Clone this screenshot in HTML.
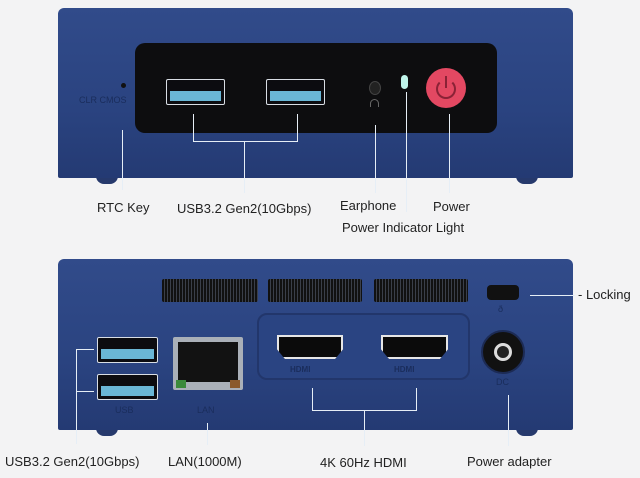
<!DOCTYPE html>
<html><head><style>
*{margin:0;padding:0;box-sizing:border-box}
body{width:640px;height:478px;background:#f3f3f4;position:relative;overflow:hidden;font-family:"Liberation Sans",sans-serif}
div{position:absolute}
.box{background:linear-gradient(#314b8a,#2a4380 60%,#243a73);border-radius:6px 6px 2px 2px}
.foot{background:#26396c;border-radius:0 0 8px 8px}
.usb{background:#0c0c10;border:1.5px solid #d8dde4;border-radius:2px}
.usb i{position:absolute;left:3px;right:3px;bottom:3px;height:40%;background:#6ab7d6}
.ln{background:#e6eef6}
.lbl{font-size:13px;color:#222;white-space:nowrap}
.vent{background:repeating-linear-gradient(90deg,#111 0 2px,#3a3f4a 2px 3px);border-radius:2px}
.hdmi{background:#0b0b0b;border:2px solid #e6e6e6;clip-path:polygon(0 0,100% 0,100% 60%,88% 100%,12% 100%,0 60%);}
.sm{font-size:9px;color:#1a2d5c}
</style></head><body>
<div class="foot" style="left:96px;top:172px;width:22px;height:12px"></div>
<div class="foot" style="left:516px;top:172px;width:22px;height:12px"></div>
<div class="box" style="left:58px;top:8px;width:515px;height:170px"></div>
<div style="left:135px;top:43px;width:362px;height:90px;background:#0d0d0f;border-radius:10px"></div>
<div style="left:121px;top:83px;width:5px;height:5px;border-radius:50%;background:#111"></div>
<div class="sm" style="left:79px;top:95px">CLR CMOS</div>
<div class="usb" style="left:166px;top:79px;width:59px;height:26px"><i></i></div>
<div class="usb" style="left:266px;top:79px;width:59px;height:26px"><i></i></div>
<div style="left:369px;top:81px;width:12px;height:14px;border-radius:50%;background:#222;border:1px solid #444"></div>
<div style="left:370px;top:99px;width:9px;height:8px;border:1.5px solid #666;border-bottom:none;border-radius:5px 5px 0 0"></div>
<div style="left:401px;top:75px;width:7px;height:14px;border-radius:4px;background:#bff4ea"></div>
<div style="left:426px;top:68px;width:40px;height:40px;border-radius:50%;background:#e34862"></div>
<div style="left:436px;top:79px;width:20px;height:20px;border-radius:50%;border:2px solid #8a2236;border-top-color:transparent"></div>
<div style="left:445px;top:76px;width:2px;height:12px;background:#8a2236"></div>
<div class="ln" style="left:122px;top:130px;width:1px;height:60px"></div>
<div class="ln" style="left:193px;top:114px;width:1px;height:28px"></div>
<div class="ln" style="left:297px;top:114px;width:1px;height:28px"></div>
<div class="ln" style="left:193px;top:141px;width:105px;height:1px"></div>
<div class="ln" style="left:244px;top:141px;width:1px;height:52px"></div>
<div class="ln" style="left:375px;top:125px;width:1px;height:68px"></div>
<div class="ln" style="left:406px;top:92px;width:1px;height:120px"></div>
<div class="ln" style="left:449px;top:114px;width:1px;height:79px"></div>
<div class="lbl" style="left:97px;top:200px">RTC Key</div>
<div class="lbl" style="left:177px;top:201px">USB3.2 Gen2(10Gbps)</div>
<div class="lbl" style="left:340px;top:198px">Earphone</div>
<div class="lbl" style="left:433px;top:199px">Power</div>
<div class="lbl" style="left:342px;top:220px">Power Indicator Light</div>
<div class="foot" style="left:96px;top:424px;width:22px;height:12px"></div>
<div class="foot" style="left:516px;top:424px;width:22px;height:12px"></div>
<div class="box" style="left:58px;top:259px;width:515px;height:171px"></div>
<div class="vent" style="left:162px;top:279px;width:96px;height:23px"></div>
<div class="vent" style="left:268px;top:279px;width:94px;height:23px"></div>
<div class="vent" style="left:374px;top:279px;width:94px;height:23px"></div>
<div style="left:487px;top:285px;width:32px;height:15px;background:#111;border-radius:4px"></div>
<div style="left:257px;top:313px;width:213px;height:67px;border:2px solid #22366b;border-radius:10px;background:#2a4482"></div>
<div class="hdmi" style="left:277px;top:335px;width:66px;height:24px"></div>
<div class="hdmi" style="left:381px;top:335px;width:67px;height:24px"></div>
<div class="sm" style="left:290px;top:365px;font-weight:bold;font-size:8px">HDMI</div>
<div class="sm" style="left:394px;top:365px;font-weight:bold;font-size:8px">HDMI</div>
<div style="left:481px;top:330px;width:44px;height:44px;border-radius:50%;background:#111;border:2px solid #1c2b55"></div>
<div style="left:494px;top:343px;width:18px;height:18px;border-radius:50%;background:#222;border:3px solid #ddd"></div>
<div class="sm" style="left:496px;top:377px">DC</div>
<div class="sm" style="left:498px;top:304px">ð</div>
<div class="usb" style="left:97px;top:337px;width:61px;height:26px"><i></i></div>
<div class="usb" style="left:97px;top:374px;width:61px;height:26px"><i></i></div>
<div style="left:173px;top:337px;width:70px;height:53px;background:#aab0b8;border-radius:2px"></div>
<div style="left:178px;top:342px;width:60px;height:40px;background:#121212"></div>
<div style="left:176px;top:380px;width:10px;height:8px;background:#3b8a3b"></div>
<div style="left:230px;top:380px;width:10px;height:8px;background:#8b5a2b"></div>
<div class="sm" style="left:115px;top:405px">USB</div>
<div class="sm" style="left:197px;top:405px">LAN</div>
<div class="ln" style="left:76px;top:349px;width:1px;height:95px"></div>
<div class="ln" style="left:76px;top:349px;width:18px;height:1px"></div>
<div class="ln" style="left:76px;top:391px;width:18px;height:1px"></div>
<div class="ln" style="left:207px;top:423px;width:1px;height:22px"></div>
<div class="ln" style="left:312px;top:388px;width:1px;height:23px"></div>
<div class="ln" style="left:416px;top:388px;width:1px;height:23px"></div>
<div class="ln" style="left:312px;top:410px;width:105px;height:1px"></div>
<div class="ln" style="left:364px;top:410px;width:1px;height:36px"></div>
<div class="ln" style="left:508px;top:395px;width:1px;height:51px"></div>
<div class="ln" style="left:530px;top:295px;width:45px;height:1px"></div>
<div class="lbl" style="left:578px;top:287px">- Locking</div>
<div class="lbl" style="left:5px;top:454px">USB3.2 Gen2(10Gbps)</div>
<div class="lbl" style="left:168px;top:454px">LAN(1000M)</div>
<div class="lbl" style="left:320px;top:455px">4K 60Hz HDMI</div>
<div class="lbl" style="left:467px;top:454px">Power adapter</div>
</body></html>
